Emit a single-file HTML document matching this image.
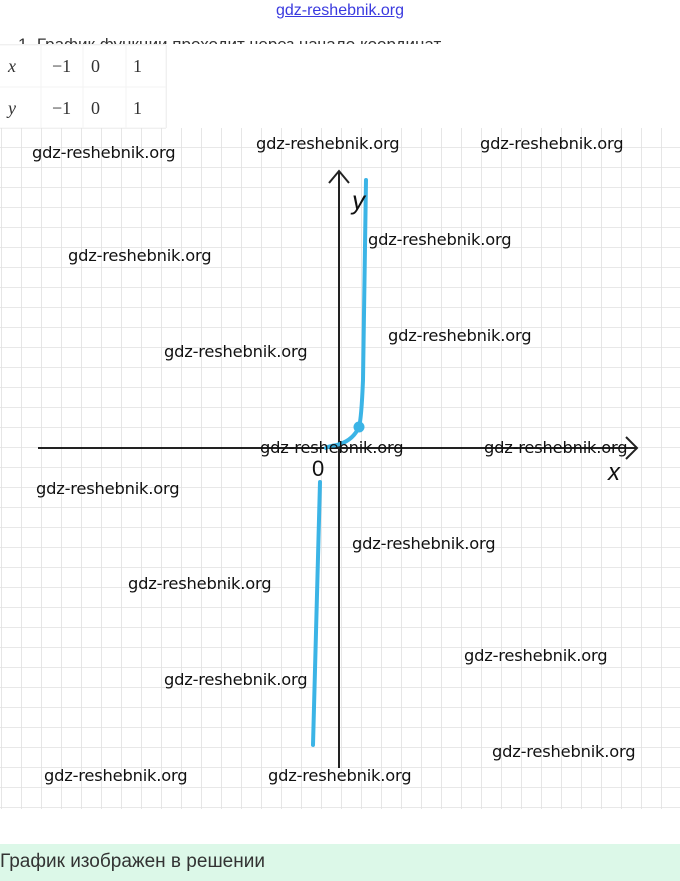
<!DOCTYPE html>
<html><head><meta charset="utf-8"><style>
body{margin:0;width:680px;height:881px;background:#fff;position:relative;overflow:hidden;font-family:"Liberation Sans",sans-serif}
.w{position:absolute;font-family:"DejaVu Sans","Liberation Sans",sans-serif;font-size:16.3px;color:#111;white-space:nowrap;letter-spacing:-0.2px}
</style></head><body>
<div style="position:absolute;left:0;top:2px;width:680px;text-align:center;color:#3a3adf;font-size:16px;text-decoration:underline">gdz-reshebnik.org</div>
<div style="position:absolute;left:18px;top:32px;font-size:17px;color:#333;height:12px;overflow:hidden;line-height:26px">1. График функции проходит через начало координат</div>
<svg width="680" height="881" style="position:absolute;left:0;top:0">
<defs><pattern id="g" x="2" y="8" width="20" height="20" patternUnits="userSpaceOnUse"><path d="M20 0V20M0 20H20" stroke="#e0e0e0" stroke-width="1.6" fill="none"/></pattern></defs>
<rect x="0" y="128" width="680" height="681" fill="url(#g)"/>
<g stroke="#e2e2e2" fill="none"><line x1="0" y1="45" x2="166" y2="45"/><line x1="0" y1="87" x2="166" y2="87"/><line x1="0" y1="128" x2="166" y2="128"/><line x1="41" y1="45" x2="41" y2="128"/><line x1="83" y1="45" x2="83" y2="128"/><line x1="126" y1="45" x2="126" y2="128"/><line x1="166" y1="45" x2="166" y2="128"/></g>
<rect x="0" y="45" width="166" height="83" fill="#fff" opacity="0.6"/>
<g font-family="Liberation Serif,serif" font-size="18" fill="#333"><text x="8" y="72" font-style="italic">x</text><text x="52" y="72">−1</text><text x="91" y="72">0</text><text x="133" y="72">1</text><text x="8" y="114" font-style="italic">y</text><text x="52" y="114">−1</text><text x="91" y="114">0</text><text x="133" y="114">1</text></g>
<g stroke="#222" stroke-width="2" fill="none"><line x1="339" y1="171" x2="339" y2="768"/><polyline points="329,183 339,171 349,183"/><line x1="38" y1="448" x2="637" y2="448"/><polyline points="626,437 637,448 626,459"/></g>
<g stroke="#3bb4e6" stroke-width="4" fill="none" stroke-linecap="round"><path d="M366 180 L363 380 C362 405 361 420 359 427 C354 438 346 442 340 444 C334 446 328 446 326 448"/><path d="M320 482 L313 745"/></g>
<circle cx="359" cy="427" r="5.5" fill="#3bb4e6"/>
<text x="352" y="209" font-size="26" font-style="italic" fill="#111">y</text>
<text x="608" y="480" font-size="24" font-style="italic" fill="#111">x</text>
<text x="312" y="476" font-size="22" fill="#111">0</text>
</svg>
<div class="w" style="left:32px;top:143px">gdz-reshebnik.org</div>
<div class="w" style="left:256px;top:134px">gdz-reshebnik.org</div>
<div class="w" style="left:480px;top:134px">gdz-reshebnik.org</div>
<div class="w" style="left:368px;top:230px">gdz-reshebnik.org</div>
<div class="w" style="left:68px;top:246px">gdz-reshebnik.org</div>
<div class="w" style="left:388px;top:326px">gdz-reshebnik.org</div>
<div class="w" style="left:164px;top:342px">gdz-reshebnik.org</div>
<div class="w" style="left:260px;top:438px">gdz-reshebnik.org</div>
<div class="w" style="left:484px;top:438px">gdz-reshebnik.org</div>
<div class="w" style="left:36px;top:479px">gdz-reshebnik.org</div>
<div class="w" style="left:352px;top:534px">gdz-reshebnik.org</div>
<div class="w" style="left:128px;top:574px">gdz-reshebnik.org</div>
<div class="w" style="left:464px;top:646px">gdz-reshebnik.org</div>
<div class="w" style="left:164px;top:670px">gdz-reshebnik.org</div>
<div class="w" style="left:492px;top:742px">gdz-reshebnik.org</div>
<div class="w" style="left:44px;top:766px">gdz-reshebnik.org</div>
<div class="w" style="left:268px;top:766px">gdz-reshebnik.org</div>
<div style="position:absolute;left:0;top:844px;width:680px;height:37px;background:#dcf8e8;font-size:19px;color:#333;line-height:36px;padding-left:0">График изображен в решении</div>
</body></html>
